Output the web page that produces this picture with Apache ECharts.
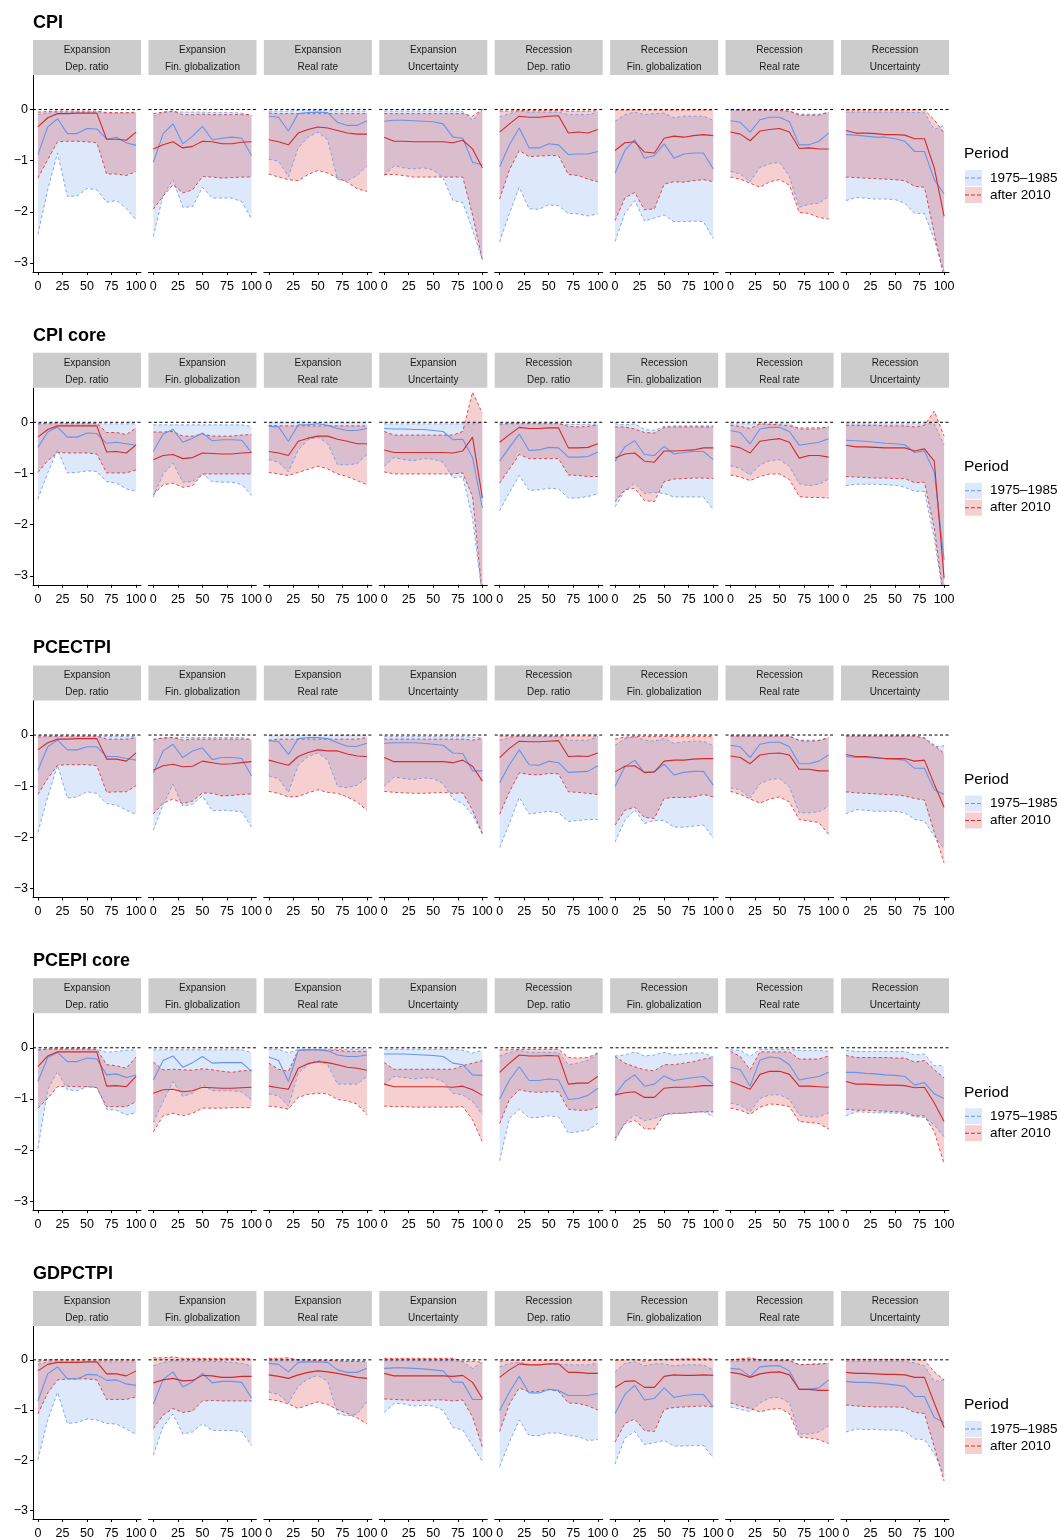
<!DOCTYPE html>
<html>
<head>
<meta charset="utf-8">
<script src="https://cdn.jsdelivr.net/npm/echarts@6/dist/echarts.min.js"></script>
<style>html,body{margin:0;padding:0;background:#fff}#c{width:1060px;height:1540px}</style>
</head>
<body>
<div id="c"></div>
<script>
// ---------------- DATA ----------------
const rowTitles = ['CPI', 'CPI core', 'PCECTPI', 'PCEPI core', 'GDPCTPI'];
const stripRegime = ['Expansion','Expansion','Expansion','Expansion','Recession','Recession','Recession','Recession'];
const stripDriver = ['Dep. ratio','Fin. globalization','Real rate','Uncertainty','Dep. ratio','Fin. globalization','Real rate','Uncertainty'];
const periodNames = ['1975\u20131985', 'after 2010'];
const xs = [0,10,20,30,40,50,60,70,80,90,100];
const xTicks = [0,25,50,75,100];
const yTicks = [-3,-2,-1,0];

// CPI
const cpi_blueMid = [
[-0.88,-0.34,-0.18,-0.47,-0.47,-0.37,-0.38,-0.58,-0.54,-0.65,-0.70],
[-1.03,-0.47,-0.28,-0.67,-0.52,-0.33,-0.59,-0.56,-0.54,-0.56,-0.90],
[-0.13,-0.15,-0.42,-0.08,-0.06,-0.05,-0.06,-0.25,-0.31,-0.31,-0.22],
[-0.23,-0.21,-0.21,-0.22,-0.23,-0.24,-0.28,-0.54,-0.56,-1.03,-1.08],
[-1.12,-0.69,-0.36,-0.75,-0.75,-0.67,-0.69,-0.88,-0.87,-0.87,-0.82],
[-1.24,-0.80,-0.59,-0.95,-0.90,-0.67,-0.95,-0.87,-0.85,-0.85,-1.16],
[-0.22,-0.25,-0.44,-0.20,-0.15,-0.15,-0.24,-0.69,-0.69,-0.62,-0.46],
[-0.49,-0.50,-0.52,-0.54,-0.54,-0.57,-0.62,-0.82,-0.82,-1.37,-1.65]];
const cpi_blueLo = [
[-2.44,-1.57,-0.85,-1.70,-1.69,-1.54,-1.57,-1.81,-1.78,-1.93,-2.16],
[-2.48,-1.67,-1.37,-1.91,-1.90,-1.52,-1.73,-1.73,-1.73,-1.80,-2.14],
[-0.97,-1.01,-1.31,-0.75,-0.54,-0.44,-0.59,-1.37,-1.39,-1.29,-1.10],
[-1.29,-1.10,-1.14,-1.16,-1.14,-1.18,-1.34,-1.78,-1.82,-2.35,-2.94],
[-2.59,-2.03,-1.52,-1.94,-1.95,-1.86,-1.88,-2.03,-2.04,-2.08,-2.04],
[-2.58,-2.03,-1.78,-2.18,-2.12,-2.06,-2.19,-2.19,-2.18,-2.19,-2.52],
[-1.21,-1.26,-1.41,-1.13,-1.06,-1.03,-1.31,-1.91,-1.85,-1.83,-1.70],
[-1.78,-1.72,-1.73,-1.75,-1.75,-1.76,-1.83,-2.03,-2.03,-2.55,-3.17]];
const cpi_blueHi = [
[-0.10,-0.07,-0.05,-0.06,-0.06,-0.06,-0.06,-0.07,-0.07,-0.07,-0.07],
[-0.13,-0.06,-0.04,-0.05,-0.05,-0.05,-0.06,-0.06,-0.06,-0.07,-0.12],
[-0.03,-0.03,-0.03,-0.02,-0.02,-0.02,-0.02,-0.03,-0.03,-0.03,-0.03],
[-0.03,-0.03,-0.03,-0.03,-0.03,-0.03,-0.03,-0.03,-0.04,-0.21,0.00],
[-0.14,-0.08,-0.03,-0.05,-0.05,-0.05,-0.05,-0.10,-0.10,-0.10,-0.05],
[-0.23,-0.10,-0.05,-0.10,-0.08,-0.07,-0.16,-0.13,-0.13,-0.13,-0.21],
[-0.02,-0.02,-0.02,-0.02,-0.02,-0.02,-0.03,-0.09,-0.09,-0.09,-0.06],
[-0.05,-0.05,-0.05,-0.05,-0.05,-0.05,-0.05,-0.06,-0.06,-0.39,-0.31]];
const cpi_redMid = [
[-0.34,-0.16,-0.08,-0.08,-0.07,-0.07,-0.07,-0.58,-0.58,-0.60,-0.44],
[-0.77,-0.69,-0.63,-0.75,-0.72,-0.62,-0.63,-0.67,-0.67,-0.64,-0.63],
[-0.59,-0.63,-0.69,-0.46,-0.39,-0.34,-0.36,-0.41,-0.46,-0.48,-0.48],
[-0.54,-0.62,-0.62,-0.63,-0.63,-0.63,-0.63,-0.65,-0.60,-0.77,-1.14],
[-0.44,-0.28,-0.13,-0.15,-0.15,-0.13,-0.12,-0.46,-0.44,-0.46,-0.39],
[-0.80,-0.65,-0.63,-0.83,-0.85,-0.56,-0.52,-0.54,-0.51,-0.49,-0.51],
[-0.44,-0.48,-0.61,-0.42,-0.39,-0.37,-0.44,-0.76,-0.75,-0.77,-0.77],
[-0.41,-0.46,-0.46,-0.47,-0.49,-0.49,-0.50,-0.57,-0.57,-1.14,-2.09]];
const cpi_redLo = [
[-1.34,-0.98,-0.63,-0.62,-0.62,-0.63,-0.65,-1.26,-1.26,-1.29,-1.21],
[-1.95,-1.69,-1.47,-1.63,-1.57,-1.31,-1.32,-1.34,-1.33,-1.32,-1.32],
[-1.26,-1.32,-1.37,-1.39,-1.27,-1.19,-1.24,-1.34,-1.42,-1.55,-1.60],
[-1.27,-1.27,-1.29,-1.32,-1.32,-1.32,-1.32,-1.32,-1.32,-2.06,-2.94],
[-1.75,-1.18,-0.80,-0.92,-0.91,-0.90,-0.90,-1.27,-1.29,-1.36,-1.41],
[-2.17,-1.73,-1.62,-1.96,-1.94,-1.46,-1.41,-1.42,-1.39,-1.37,-1.41],
[-1.32,-1.36,-1.44,-1.52,-1.41,-1.37,-1.48,-2.01,-2.03,-2.11,-2.14],
[-1.32,-1.33,-1.34,-1.35,-1.36,-1.37,-1.39,-1.50,-1.52,-2.42,-3.30]];
const cpi_redHi = [
[-0.05,-0.04,-0.03,-0.03,-0.03,-0.03,-0.03,-0.06,-0.06,-0.06,-0.05],
[-0.08,-0.05,-0.03,-0.10,-0.10,-0.09,-0.10,-0.10,-0.10,-0.10,-0.10],
[-0.07,-0.08,-0.08,-0.08,-0.08,-0.08,-0.08,-0.08,-0.08,-0.08,-0.08],
[-0.08,-0.08,-0.08,-0.08,-0.08,-0.08,-0.08,-0.08,-0.08,-0.13,0.00],
[-0.03,-0.03,-0.02,-0.02,-0.02,-0.02,-0.02,-0.03,-0.03,-0.03,-0.02],
[-0.01,-0.01,-0.01,-0.01,-0.01,-0.01,-0.01,-0.01,-0.01,-0.01,-0.01],
[0.00,-0.01,-0.01,-0.01,-0.01,-0.02,-0.03,-0.11,-0.11,-0.11,-0.05],
[-0.01,-0.01,-0.01,-0.01,-0.01,-0.01,-0.01,-0.01,-0.01,-0.20,-0.46]];

// CPI core
const cpicore_blueMid = [
[-0.49,-0.19,-0.09,-0.29,-0.29,-0.21,-0.22,-0.41,-0.39,-0.42,-0.45],
[-0.57,-0.23,-0.14,-0.39,-0.31,-0.21,-0.36,-0.34,-0.34,-0.35,-0.59],
[-0.08,-0.09,-0.37,-0.05,-0.05,-0.03,-0.06,-0.12,-0.16,-0.16,-0.12],
[-0.12,-0.13,-0.13,-0.14,-0.14,-0.16,-0.18,-0.34,-0.33,-0.69,-1.67],
[-0.76,-0.49,-0.23,-0.55,-0.54,-0.49,-0.50,-0.68,-0.68,-0.67,-0.58],
[-0.76,-0.48,-0.36,-0.63,-0.65,-0.47,-0.62,-0.59,-0.57,-0.57,-0.73],
[-0.16,-0.20,-0.42,-0.13,-0.10,-0.10,-0.18,-0.45,-0.42,-0.39,-0.32],
[-0.35,-0.36,-0.37,-0.39,-0.41,-0.42,-0.44,-0.59,-0.56,-0.97,-2.69]];
const cpicore_blueLo = [
[-1.50,-0.99,-0.54,-0.99,-0.98,-0.95,-0.96,-1.16,-1.19,-1.30,-1.35],
[-1.46,-1.01,-0.80,-1.17,-1.16,-1.01,-1.16,-1.17,-1.17,-1.22,-1.43],
[-0.73,-0.78,-0.97,-0.54,-0.34,-0.29,-0.42,-0.83,-0.83,-0.81,-0.63],
[-0.86,-0.69,-0.73,-0.75,-0.71,-0.72,-0.78,-1.09,-1.06,-1.88,-3.40],
[-1.73,-1.37,-1.04,-1.33,-1.32,-1.29,-1.30,-1.48,-1.48,-1.45,-1.40],
[-1.65,-1.34,-1.19,-1.39,-1.37,-1.39,-1.46,-1.46,-1.46,-1.46,-1.71],
[-0.85,-0.90,-1.03,-0.83,-0.75,-0.73,-0.86,-1.20,-1.24,-1.21,-1.11],
[-1.24,-1.21,-1.21,-1.21,-1.22,-1.23,-1.27,-1.35,-1.35,-2.27,-3.50]];
const cpicore_blueHi = [
[-0.03,-0.03,-0.03,-0.03,-0.03,-0.03,-0.03,-0.03,-0.03,-0.03,-0.03],
[-0.05,-0.05,-0.05,-0.05,-0.05,-0.05,-0.05,-0.05,-0.05,-0.05,-0.08],
[-0.01,-0.01,-0.01,-0.01,-0.01,-0.01,-0.01,-0.01,-0.01,-0.01,-0.01],
[-0.03,-0.03,-0.03,-0.03,-0.03,-0.03,-0.03,-0.03,-0.03,-0.03,-0.01],
[-0.05,-0.03,-0.03,-0.03,-0.03,-0.03,-0.03,-0.04,-0.04,-0.04,-0.03],
[-0.03,-0.05,-0.03,-0.14,-0.16,-0.08,-0.07,-0.07,-0.07,-0.07,-0.07],
[-0.03,-0.03,-0.03,-0.03,-0.03,-0.03,-0.03,-0.14,-0.14,-0.13,-0.08],
[-0.03,-0.03,-0.03,-0.03,-0.03,-0.03,-0.03,-0.03,-0.03,-0.03,-0.44]];
const cpicore_redMid = [
[-0.29,-0.14,-0.07,-0.07,-0.07,-0.07,-0.07,-0.58,-0.57,-0.60,-0.44],
[-0.73,-0.65,-0.63,-0.71,-0.69,-0.60,-0.61,-0.62,-0.62,-0.60,-0.59],
[-0.57,-0.60,-0.65,-0.37,-0.31,-0.27,-0.27,-0.33,-0.37,-0.42,-0.42],
[-0.54,-0.59,-0.59,-0.59,-0.59,-0.59,-0.59,-0.60,-0.56,-0.29,-1.48],
[-0.39,-0.24,-0.10,-0.12,-0.12,-0.11,-0.11,-0.50,-0.50,-0.49,-0.42],
[-0.70,-0.62,-0.60,-0.76,-0.78,-0.56,-0.56,-0.55,-0.54,-0.50,-0.50],
[-0.46,-0.50,-0.60,-0.37,-0.34,-0.32,-0.39,-0.70,-0.65,-0.65,-0.68],
[-0.45,-0.48,-0.48,-0.49,-0.50,-0.50,-0.50,-0.56,-0.52,-0.76,-3.05]];
const cpicore_redLo = [
[-0.98,-0.75,-0.59,-0.60,-0.60,-0.60,-0.62,-0.99,-0.99,-0.99,-0.93],
[-1.41,-1.22,-1.19,-1.27,-1.24,-1.01,-1.01,-1.01,-1.01,-1.01,-1.01],
[-0.98,-1.01,-1.04,-0.98,-0.92,-0.86,-0.91,-1.01,-1.06,-1.14,-1.22],
[-0.97,-1.01,-1.01,-1.01,-1.01,-1.01,-1.01,-1.01,-0.99,-1.45,-3.40],
[-1.19,-0.91,-0.63,-0.71,-0.71,-0.71,-0.71,-1.03,-1.04,-1.06,-1.06],
[-1.55,-1.32,-1.29,-1.53,-1.55,-1.16,-1.11,-1.10,-1.09,-1.09,-1.10],
[-1.03,-1.07,-1.14,-1.06,-1.01,-1.01,-1.12,-1.45,-1.47,-1.47,-1.48],
[-1.06,-1.07,-1.08,-1.09,-1.09,-1.10,-1.10,-1.18,-1.17,-2.07,-3.50]];
const cpicore_redHi = [
[-0.03,-0.02,-0.01,-0.02,-0.02,-0.02,-0.02,-0.20,-0.20,-0.24,-0.11],
[-0.19,-0.19,-0.18,-0.27,-0.27,-0.23,-0.27,-0.27,-0.27,-0.25,-0.24],
[-0.06,-0.07,-0.07,-0.07,-0.07,-0.07,-0.07,-0.07,-0.07,-0.07,-0.07],
[-0.18,-0.25,-0.25,-0.25,-0.25,-0.25,-0.25,-0.25,-0.18,0.59,0.18],
[-0.03,-0.02,-0.02,-0.02,-0.02,-0.02,-0.02,-0.08,-0.09,-0.08,-0.05],
[-0.09,-0.09,-0.13,-0.20,-0.21,-0.10,-0.09,-0.09,-0.09,-0.09,-0.09],
[-0.06,-0.08,-0.12,-0.03,-0.04,-0.05,-0.07,-0.11,-0.11,-0.11,-0.10],
[-0.06,-0.06,-0.06,-0.06,-0.07,-0.07,-0.07,-0.09,-0.06,0.22,-0.27]];

// PCECTPI
const pcectpi_blueMid = [
[-0.69,-0.23,-0.10,-0.29,-0.29,-0.23,-0.23,-0.42,-0.42,-0.46,-0.49],
[-0.74,-0.31,-0.18,-0.44,-0.31,-0.25,-0.48,-0.44,-0.44,-0.46,-0.80],
[-0.11,-0.13,-0.38,-0.07,-0.05,-0.05,-0.07,-0.15,-0.22,-0.22,-0.16],
[-0.16,-0.15,-0.15,-0.15,-0.16,-0.18,-0.20,-0.35,-0.36,-0.70,-0.70],
[-0.93,-0.58,-0.29,-0.58,-0.59,-0.51,-0.54,-0.73,-0.72,-0.71,-0.60],
[-1.00,-0.62,-0.49,-0.74,-0.72,-0.57,-0.78,-0.73,-0.71,-0.71,-0.98],
[-0.20,-0.23,-0.44,-0.18,-0.14,-0.14,-0.23,-0.56,-0.56,-0.51,-0.39],
[-0.42,-0.44,-0.44,-0.45,-0.46,-0.47,-0.49,-0.65,-0.65,-1.07,-1.16]];
const pcectpi_blueLo = [
[-1.90,-1.21,-0.59,-1.23,-1.21,-1.11,-1.14,-1.34,-1.37,-1.47,-1.55],
[-1.86,-1.36,-0.96,-1.39,-1.35,-1.19,-1.48,-1.47,-1.48,-1.50,-1.80],
[-0.80,-0.85,-1.12,-0.59,-0.42,-0.35,-0.49,-1.00,-1.03,-0.98,-0.83],
[-1.00,-0.82,-0.85,-0.87,-0.84,-0.85,-0.95,-1.25,-1.34,-1.56,-1.93],
[-2.20,-1.72,-1.22,-1.54,-1.52,-1.49,-1.52,-1.69,-1.67,-1.65,-1.65],
[-2.09,-1.67,-1.46,-1.73,-1.67,-1.67,-1.80,-1.80,-1.78,-1.76,-2.01],
[-1.03,-1.07,-1.23,-0.95,-0.87,-0.85,-1.01,-1.52,-1.52,-1.50,-1.39],
[-1.54,-1.46,-1.47,-1.49,-1.49,-1.49,-1.52,-1.65,-1.68,-1.98,-2.22]];
const pcectpi_blueHi = [
[-0.05,-0.03,-0.03,-0.03,-0.03,-0.03,-0.03,-0.03,-0.03,-0.03,-0.03],
[-0.10,-0.05,-0.05,-0.05,-0.05,-0.05,-0.05,-0.05,-0.05,-0.05,-0.10],
[-0.01,-0.01,-0.01,-0.01,-0.01,-0.01,-0.01,-0.01,-0.01,-0.01,-0.01],
[-0.03,-0.03,-0.03,-0.03,-0.03,-0.03,-0.03,-0.03,-0.03,-0.04,-0.06],
[-0.10,-0.05,-0.02,-0.03,-0.03,-0.03,-0.03,-0.10,-0.10,-0.10,-0.03],
[-0.20,-0.07,-0.03,-0.10,-0.12,-0.07,-0.16,-0.13,-0.12,-0.12,-0.21],
[-0.02,-0.02,-0.02,-0.02,-0.02,-0.02,-0.02,-0.10,-0.10,-0.10,-0.06],
[-0.02,-0.02,-0.02,-0.02,-0.02,-0.02,-0.02,-0.02,-0.06,-0.23,-0.21]];
const pcectpi_redMid = [
[-0.29,-0.15,-0.08,-0.08,-0.07,-0.07,-0.07,-0.47,-0.47,-0.51,-0.35],
[-0.69,-0.60,-0.57,-0.62,-0.61,-0.51,-0.54,-0.57,-0.56,-0.54,-0.52],
[-0.49,-0.54,-0.59,-0.42,-0.34,-0.29,-0.31,-0.31,-0.37,-0.41,-0.42],
[-0.44,-0.52,-0.52,-0.52,-0.52,-0.52,-0.52,-0.54,-0.49,-0.61,-0.90],
[-0.44,-0.26,-0.12,-0.13,-0.13,-0.12,-0.11,-0.42,-0.41,-0.42,-0.35],
[-0.72,-0.61,-0.60,-0.73,-0.72,-0.51,-0.49,-0.49,-0.47,-0.46,-0.46],
[-0.41,-0.44,-0.56,-0.39,-0.36,-0.35,-0.39,-0.67,-0.67,-0.70,-0.70],
[-0.38,-0.42,-0.42,-0.44,-0.46,-0.46,-0.46,-0.51,-0.49,-0.96,-1.41]];
const pcectpi_redLo = [
[-1.16,-0.85,-0.59,-0.58,-0.58,-0.58,-0.60,-1.12,-1.11,-1.11,-0.99],
[-1.54,-1.33,-1.25,-1.34,-1.29,-1.13,-1.14,-1.19,-1.18,-1.16,-1.15],
[-1.10,-1.14,-1.21,-1.20,-1.13,-1.07,-1.12,-1.14,-1.21,-1.31,-1.47],
[-1.10,-1.12,-1.13,-1.14,-1.14,-1.13,-1.12,-1.14,-1.13,-1.47,-1.94],
[-1.55,-1.11,-0.74,-0.77,-0.78,-0.75,-0.76,-1.11,-1.12,-1.14,-1.16],
[-1.76,-1.47,-1.41,-1.61,-1.63,-1.24,-1.22,-1.22,-1.21,-1.16,-1.21],
[-1.10,-1.16,-1.25,-1.33,-1.25,-1.21,-1.31,-1.65,-1.68,-1.71,-1.94],
[-1.11,-1.13,-1.14,-1.15,-1.16,-1.17,-1.19,-1.24,-1.27,-1.90,-2.50]];
const pcectpi_redHi = [
[-0.02,-0.02,-0.02,-0.02,-0.02,-0.02,-0.02,-0.08,-0.08,-0.08,-0.05],
[-0.08,-0.06,-0.05,-0.10,-0.08,-0.08,-0.08,-0.08,-0.08,-0.08,-0.08],
[-0.10,-0.08,-0.08,-0.08,-0.08,-0.08,-0.08,-0.08,-0.08,-0.08,-0.05],
[-0.08,-0.08,-0.08,-0.08,-0.08,-0.08,-0.08,-0.08,-0.08,-0.10,-0.07],
[-0.02,-0.02,-0.02,-0.02,-0.02,-0.02,-0.02,-0.02,-0.02,-0.02,-0.02],
[-0.08,-0.04,-0.03,-0.03,-0.03,-0.03,-0.03,-0.03,-0.03,-0.03,-0.03],
[-0.02,-0.02,-0.02,-0.02,-0.02,-0.02,-0.02,-0.11,-0.12,-0.11,-0.05],
[-0.02,-0.02,-0.02,-0.02,-0.02,-0.02,-0.02,-0.02,-0.06,-0.20,-0.36]];

// PCEPI core
const pcepicore_blueMid = [
[-0.66,-0.19,-0.09,-0.27,-0.27,-0.20,-0.22,-0.53,-0.51,-0.58,-0.53],
[-0.63,-0.25,-0.16,-0.38,-0.29,-0.17,-0.30,-0.29,-0.29,-0.29,-0.46],
[-0.18,-0.25,-0.66,-0.05,-0.04,-0.04,-0.06,-0.14,-0.17,-0.17,-0.14],
[-0.12,-0.12,-0.12,-0.13,-0.14,-0.15,-0.17,-0.30,-0.33,-0.53,-0.54],
[-1.00,-0.63,-0.37,-0.64,-0.64,-0.61,-0.63,-1.01,-0.99,-0.93,-0.79],
[-0.92,-0.66,-0.53,-0.75,-0.71,-0.55,-0.64,-0.61,-0.58,-0.56,-0.71],
[-0.38,-0.43,-0.75,-0.24,-0.18,-0.20,-0.33,-0.63,-0.59,-0.56,-0.48],
[-0.48,-0.48,-0.50,-0.51,-0.53,-0.54,-0.56,-0.73,-0.68,-0.90,-0.99]];
const pcepicore_blueLo = [
[-1.97,-0.82,-0.46,-0.82,-0.84,-0.76,-0.77,-1.20,-1.22,-1.31,-1.27],
[-1.46,-1.05,-0.66,-0.95,-0.89,-0.71,-0.84,-0.84,-0.84,-0.86,-1.02],
[-0.90,-0.94,-1.14,-0.50,-0.33,-0.24,-0.33,-0.71,-0.71,-0.71,-0.56],
[-0.71,-0.56,-0.58,-0.61,-0.59,-0.59,-0.66,-0.89,-0.92,-1.05,-1.31],
[-2.21,-1.38,-1.20,-1.37,-1.36,-1.33,-1.35,-1.67,-1.64,-1.61,-1.48],
[-1.82,-1.46,-1.31,-1.43,-1.38,-1.31,-1.29,-1.28,-1.26,-1.25,-1.35],
[-1.08,-1.12,-1.25,-0.99,-0.92,-0.92,-1.01,-1.31,-1.35,-1.35,-1.27],
[-1.33,-1.25,-1.26,-1.27,-1.27,-1.28,-1.29,-1.35,-1.36,-1.51,-1.74]];
const pcepicore_blueHi = [
[-0.05,-0.03,-0.03,-0.03,-0.03,-0.03,-0.03,-0.09,-0.07,-0.05,-0.04],
[-0.04,-0.04,-0.04,-0.04,-0.04,-0.04,-0.04,-0.04,-0.04,-0.04,-0.09],
[-0.03,-0.03,-0.10,-0.03,-0.03,-0.03,-0.03,-0.03,-0.03,-0.03,-0.03],
[-0.03,-0.03,-0.03,-0.03,-0.03,-0.03,-0.03,-0.03,-0.05,-0.10,-0.05],
[-0.16,-0.09,-0.05,-0.09,-0.09,-0.09,-0.09,-0.33,-0.30,-0.24,-0.12],
[-0.16,-0.14,-0.08,-0.16,-0.14,-0.09,-0.14,-0.12,-0.10,-0.10,-0.18],
[-0.04,-0.05,-0.17,-0.03,-0.03,-0.03,-0.03,-0.05,-0.05,-0.05,-0.07],
[-0.05,-0.07,-0.07,-0.07,-0.07,-0.07,-0.07,-0.14,-0.12,-0.35,-0.35]];
const pcepicore_redMid = [
[-0.37,-0.16,-0.08,-0.08,-0.08,-0.08,-0.08,-0.75,-0.74,-0.76,-0.56],
[-0.89,-0.82,-0.81,-0.86,-0.84,-0.77,-0.78,-0.79,-0.79,-0.78,-0.77],
[-0.75,-0.78,-0.81,-0.40,-0.31,-0.27,-0.29,-0.33,-0.38,-0.40,-0.44],
[-0.71,-0.76,-0.76,-0.76,-0.76,-0.76,-0.76,-0.77,-0.75,-0.82,-0.93],
[-0.48,-0.30,-0.14,-0.16,-0.16,-0.15,-0.16,-0.71,-0.69,-0.69,-0.56],
[-0.92,-0.88,-0.86,-0.97,-0.97,-0.79,-0.77,-0.77,-0.76,-0.74,-0.74],
[-0.66,-0.73,-0.81,-0.52,-0.46,-0.46,-0.52,-0.75,-0.75,-0.76,-0.77],
[-0.66,-0.71,-0.71,-0.72,-0.73,-0.73,-0.74,-0.78,-0.77,-1.08,-1.44]];
const pcepicore_redLo = [
[-1.18,-0.99,-0.76,-0.75,-0.76,-0.76,-0.78,-1.15,-1.15,-1.15,-1.05],
[-1.64,-1.33,-1.28,-1.33,-1.28,-1.18,-1.18,-1.18,-1.17,-1.17,-1.17],
[-1.14,-1.16,-1.20,-0.97,-0.91,-0.89,-0.90,-1.01,-1.04,-1.10,-1.31],
[-1.14,-1.15,-1.15,-1.16,-1.16,-1.16,-1.16,-1.16,-1.15,-1.41,-1.84],
[-1.48,-1.01,-0.82,-0.86,-0.87,-0.86,-0.86,-1.20,-1.22,-1.22,-1.16],
[-1.77,-1.48,-1.42,-1.58,-1.59,-1.30,-1.28,-1.28,-1.26,-1.25,-1.25],
[-1.18,-1.22,-1.30,-1.16,-1.10,-1.11,-1.15,-1.44,-1.46,-1.48,-1.59],
[-1.20,-1.22,-1.22,-1.23,-1.24,-1.25,-1.26,-1.33,-1.33,-1.64,-2.27]];
const pcepicore_redHi = [
[-0.04,-0.02,-0.02,-0.02,-0.02,-0.02,-0.03,-0.33,-0.35,-0.40,-0.18],
[-0.28,-0.43,-0.42,-0.43,-0.44,-0.41,-0.43,-0.46,-0.48,-0.45,-0.44],
[-0.30,-0.42,-0.46,-0.05,-0.04,-0.04,-0.05,-0.05,-0.07,-0.07,-0.07],
[-0.29,-0.42,-0.42,-0.42,-0.42,-0.42,-0.42,-0.42,-0.35,-0.30,-0.25],
[-0.04,-0.04,-0.03,-0.03,-0.03,-0.03,-0.03,-0.19,-0.20,-0.19,-0.10],
[-0.17,-0.30,-0.37,-0.43,-0.45,-0.33,-0.33,-0.30,-0.27,-0.22,-0.19],
[-0.07,-0.17,-0.43,-0.08,-0.08,-0.08,-0.08,-0.22,-0.22,-0.22,-0.16],
[-0.15,-0.19,-0.19,-0.19,-0.19,-0.20,-0.20,-0.28,-0.25,-0.43,-0.59]];

// GDPCTPI
const gdpctpi_blueMid = [
[-0.82,-0.28,-0.14,-0.38,-0.38,-0.29,-0.30,-0.41,-0.40,-0.48,-0.51],
[-0.88,-0.39,-0.24,-0.54,-0.44,-0.27,-0.46,-0.43,-0.43,-0.45,-0.76],
[-0.07,-0.09,-0.24,-0.05,-0.04,-0.04,-0.05,-0.20,-0.25,-0.25,-0.17],
[-0.17,-0.16,-0.16,-0.17,-0.18,-0.20,-0.22,-0.44,-0.45,-0.79,-0.79],
[-1.01,-0.64,-0.33,-0.66,-0.66,-0.59,-0.61,-0.71,-0.71,-0.71,-0.67],
[-1.07,-0.69,-0.51,-0.80,-0.77,-0.56,-0.75,-0.71,-0.69,-0.69,-0.94],
[-0.17,-0.19,-0.33,-0.14,-0.12,-0.12,-0.22,-0.59,-0.59,-0.56,-0.40],
[-0.43,-0.45,-0.45,-0.46,-0.48,-0.50,-0.53,-0.73,-0.73,-1.15,-1.25]];
const gdpctpi_blueLo = [
[-1.99,-1.20,-0.65,-1.27,-1.25,-1.18,-1.20,-1.27,-1.28,-1.38,-1.49],
[-1.90,-1.33,-1.08,-1.48,-1.44,-1.27,-1.41,-1.41,-1.41,-1.43,-1.71],
[-0.64,-0.69,-0.86,-0.53,-0.38,-0.31,-0.43,-1.07,-1.12,-1.08,-0.84],
[-1.05,-0.87,-0.88,-0.92,-0.91,-0.92,-1.01,-1.35,-1.40,-1.71,-2.03],
[-2.13,-1.64,-1.20,-1.51,-1.51,-1.46,-1.46,-1.51,-1.53,-1.61,-1.59],
[-2.08,-1.56,-1.43,-1.69,-1.65,-1.61,-1.72,-1.72,-1.71,-1.71,-1.95],
[-0.94,-0.99,-1.03,-0.86,-0.76,-0.75,-0.86,-1.48,-1.48,-1.44,-1.31],
[-1.44,-1.38,-1.39,-1.39,-1.40,-1.40,-1.43,-1.58,-1.59,-1.87,-2.29]];
const gdpctpi_blueHi = [
[-0.09,-0.04,-0.04,-0.04,-0.04,-0.04,-0.04,-0.04,-0.04,-0.04,-0.04],
[-0.12,-0.05,-0.02,-0.03,-0.03,-0.03,-0.03,-0.04,-0.05,-0.07,-0.12],
[-0.02,-0.02,-0.02,-0.02,-0.02,-0.02,-0.02,-0.02,-0.02,-0.02,-0.02],
[-0.02,-0.02,-0.02,-0.02,-0.02,-0.02,-0.02,-0.02,-0.04,-0.17,-0.05],
[-0.14,-0.07,-0.05,-0.09,-0.09,-0.09,-0.09,-0.10,-0.10,-0.10,-0.07],
[-0.24,-0.07,-0.04,-0.12,-0.08,-0.08,-0.12,-0.10,-0.10,-0.10,-0.20],
[-0.03,-0.03,-0.03,-0.02,-0.02,-0.02,-0.02,-0.09,-0.09,-0.07,-0.07],
[-0.03,-0.03,-0.03,-0.03,-0.03,-0.03,-0.03,-0.06,-0.12,-0.43,-0.40]];
const gdpctpi_redMid = [
[-0.22,-0.09,-0.05,-0.05,-0.05,-0.04,-0.04,-0.28,-0.28,-0.32,-0.22],
[-0.46,-0.40,-0.37,-0.42,-0.41,-0.31,-0.32,-0.35,-0.35,-0.33,-0.33],
[-0.30,-0.33,-0.37,-0.30,-0.25,-0.22,-0.24,-0.27,-0.31,-0.35,-0.37],
[-0.27,-0.32,-0.32,-0.32,-0.32,-0.32,-0.32,-0.33,-0.31,-0.45,-0.77],
[-0.35,-0.20,-0.08,-0.10,-0.10,-0.08,-0.08,-0.25,-0.25,-0.27,-0.27],
[-0.55,-0.43,-0.42,-0.55,-0.55,-0.33,-0.30,-0.31,-0.31,-0.30,-0.31],
[-0.25,-0.28,-0.35,-0.28,-0.25,-0.24,-0.30,-0.59,-0.59,-0.61,-0.61],
[-0.25,-0.27,-0.27,-0.28,-0.29,-0.29,-0.30,-0.35,-0.35,-0.86,-1.35]];
const gdpctpi_redLo = [
[-1.08,-0.66,-0.40,-0.38,-0.38,-0.38,-0.40,-0.79,-0.79,-0.79,-0.74],
[-1.37,-1.10,-0.97,-1.05,-1.02,-0.82,-0.81,-0.82,-0.82,-0.82,-0.82],
[-0.79,-0.82,-0.88,-0.97,-0.90,-0.84,-0.89,-0.99,-1.07,-1.16,-1.28],
[-0.78,-0.79,-0.80,-0.81,-0.81,-0.80,-0.80,-0.82,-0.80,-1.14,-1.74],
[-1.43,-0.88,-0.56,-0.64,-0.63,-0.59,-0.63,-0.86,-0.87,-0.92,-1.00],
[-1.64,-1.27,-1.18,-1.41,-1.43,-0.99,-0.95,-0.94,-0.93,-0.92,-0.94],
[-0.86,-0.92,-0.97,-1.04,-0.99,-0.97,-1.07,-1.54,-1.56,-1.59,-1.67],
[-0.90,-0.92,-0.93,-0.94,-0.94,-0.94,-0.95,-1.05,-1.07,-1.74,-2.42]];
const gdpctpi_redHi = [
[-0.03,0.00,0.00,0.00,0.00,0.00,0.00,0.00,0.00,0.00,-0.01],
[0.04,0.04,0.06,0.03,0.03,0.03,0.03,0.03,0.03,0.03,0.02],
[0.03,0.03,0.04,0.00,0.00,-0.01,-0.01,-0.02,-0.03,-0.03,-0.04],
[0.03,0.03,0.03,0.03,0.03,0.03,0.03,0.03,-0.03,-0.03,-0.05],
[-0.03,-0.01,-0.01,-0.01,-0.01,-0.01,-0.01,-0.01,-0.01,-0.01,-0.01],
[-0.01,0.00,0.01,-0.03,0.00,0.01,0.01,0.02,0.02,0.02,0.02],
[0.00,0.02,0.04,0.00,0.00,-0.01,-0.01,-0.10,-0.09,-0.09,-0.07],
[0.01,0.01,0.01,0.01,0.01,0.01,0.01,0.01,-0.01,-0.24,-0.40]];

// ---------------- BUILD ----------------
const rows = [
  {title: rowTitles[0], s: [[cpi_blueMid, cpi_blueLo, cpi_blueHi], [cpi_redMid, cpi_redLo, cpi_redHi]]},
  {title: rowTitles[1], s: [[cpicore_blueMid, cpicore_blueLo, cpicore_blueHi], [cpicore_redMid, cpicore_redLo, cpicore_redHi]]},
  {title: rowTitles[2], s: [[pcectpi_blueMid, pcectpi_blueLo, pcectpi_blueHi], [pcectpi_redMid, pcectpi_redLo, pcectpi_redHi]]},
  {title: rowTitles[3], s: [[pcepicore_blueMid, pcepicore_blueLo, pcepicore_blueHi], [pcepicore_redMid, pcepicore_redLo, pcepicore_redHi]]},
  {title: rowTitles[4], s: [[gdpctpi_blueMid, gdpctpi_blueLo, gdpctpi_blueHi], [gdpctpi_redMid, gdpctpi_redLo, gdpctpi_redHi]]}
];

const FONT = '"Liberation Sans", Arial, Helvetica, sans-serif';
const PANEL_W = 108, PANEL_STEP = 115.43, LEFT0 = 33;
const ROW_STEP = 312.75, TOP0 = 75, PANEL_H = 197, STRIP_H = 35;
const YMIN = -3.175, YMAX = 0.675;
const STYLE = [
  {line: '#6495ED', fill: 'rgba(100,149,237,0.22)', border: 'rgba(100,149,237,0.8)'},
  {line: '#D22B2B', fill: 'rgba(215,40,40,0.22)', border: 'rgba(215,40,40,0.8)'}
];
const minusFmt = v => (v < 0 ? '\u2212' + Math.abs(v) : String(v));

// band polygon built through the coordinate system of its own grid
function bandRenderer(lo, hi, fill) {
  return function (params, api) {
    if (params.dataIndex !== 0) return null;
    const pts = [];
    for (let i = 0; i < xs.length; i++) pts.push(api.coord([xs[i], hi[i]]));
    for (let i = xs.length - 1; i >= 0; i--) pts.push(api.coord([xs[i], lo[i]]));
    const cs = params.coordSys;
    return {
      type: 'polygon',
      shape: {points: pts},
      style: {fill: fill, stroke: null},
      clipPath: {type: 'rect', shape: {x: cs.x, y: cs.y, width: cs.width, height: cs.height}}
    };
  };
}

const grids = [], xAxes = [], yAxes = [], series = [], graphics = [];

rows.forEach((row, r) => {
  const top = TOP0 + r * ROW_STEP;
  graphics.push({type: 'text', x: 33, y: top - 52, z: 100,
    style: {text: row.title, font: 'bold 18px ' + FONT, fill: '#000', verticalAlign: 'middle', align: 'left'}});
  for (let p = 0; p < 8; p++) {
    const g = grids.length;
    const left = LEFT0 + p * PANEL_STEP;
    grids.push({left: left, top: top, width: PANEL_W, height: PANEL_H, containLabel: false});
    graphics.push({type: 'rect', shape: {x: left, y: top - STRIP_H, width: PANEL_W, height: STRIP_H}, style: {fill: '#CCCCCC'}, z: 50});
    graphics.push({type: 'text', x: left + PANEL_W / 2, y: top - 25, z: 100,
      style: {text: stripRegime[p], font: '10px ' + FONT, fill: '#1A1A1A', align: 'center', verticalAlign: 'middle'}});
    graphics.push({type: 'text', x: left + PANEL_W / 2, y: top - 8, z: 100,
      style: {text: stripDriver[p], font: '10px ' + FONT, fill: '#1A1A1A', align: 'center', verticalAlign: 'middle'}});

    xAxes.push({gridIndex: g, type: 'value', min: -5, max: 105,
      axisLine: {show: true, onZero: false, lineStyle: {color: '#000', width: 1}},
      axisTick: {show: true, length: 3, customValues: xTicks, lineStyle: {color: '#000', width: 1}},
      axisLabel: {show: true, customValues: xTicks, fontSize: 12.5, color: '#000', margin: 8, fontFamily: FONT},
      splitLine: {show: false}});
    yAxes.push({gridIndex: g, type: 'value', min: YMIN, max: YMAX, show: p === 0,
      axisLine: {show: true, onZero: false, lineStyle: {color: '#000', width: 1}},
      axisTick: {show: true, length: 3, customValues: yTicks, lineStyle: {color: '#000', width: 1}},
      axisLabel: {show: true, customValues: yTicks, fontSize: 12.5, color: '#000', margin: 5, fontFamily: FONT, formatter: minusFmt},
      splitLine: {show: false}});

    // ribbons (fill) and their dashed bounds
    for (let k = 0; k < 2; k++) {
      const lo = row.s[k][1][p], hi = row.s[k][2][p];
      const st = STYLE[k];
      series.push({type: 'custom', xAxisIndex: g, yAxisIndex: g, silent: true, z: 2 + k,
        data: xs.map((x, i) => [x, lo[i], hi[i]]),
        encode: {x: 0, y: [1, 2]},
        renderItem: bandRenderer(lo, hi, st.fill)});
      series.push({type: 'line', xAxisIndex: g, yAxisIndex: g,
        data: xs.map((x, i) => [x, lo[i]]), symbol: 'none', silent: true, clip: true, z: 4,
        lineStyle: {color: st.border, width: 1, type: [3, 2.5]}});
      series.push({type: 'line', xAxisIndex: g, yAxisIndex: g,
        data: xs.map((x, i) => [x, hi[i]]), symbol: 'none', silent: true, clip: true, z: 4,
        lineStyle: {color: st.border, width: 1, type: [3, 2.5]}});
    }
    // zero reference
    series.push({type: 'line', xAxisIndex: g, yAxisIndex: g, data: [[-5, 0], [105, 0]], symbol: 'none', silent: true, z: 6,
      lineStyle: {color: '#000', width: 1, type: [3, 2.5]}});
    // central lines
    for (let k = 0; k < 2; k++) {
      const mid = row.s[k][0][p];
      series.push({type: 'line', xAxisIndex: g, yAxisIndex: g,
        data: xs.map((x, i) => [x, mid[i]]), symbol: 'none', silent: true, clip: true, z: 5,
        lineStyle: {color: STYLE[k].line, width: 1.1}});
    }
  }

  // legend
  graphics.push({type: 'text', x: 964, y: top + 79, z: 100,
    style: {text: 'Period', font: '15.5px ' + FONT, fill: '#000', align: 'left', verticalAlign: 'middle'}});
  for (let k = 0; k < 2; k++) {
    const cy = top + 103 + k * 17;
    graphics.push({type: 'rect', shape: {x: 965, y: cy - 8, width: 17, height: 16}, style: {fill: STYLE[k].fill}, z: 100});
    graphics.push({type: 'line', shape: {x1: 965, y1: cy, x2: 982, y2: cy}, style: {stroke: STYLE[k].line, lineWidth: 1, lineDash: [4, 2]}, z: 101});
    graphics.push({type: 'text', x: 990, y: cy, z: 100,
      style: {text: periodNames[k], font: '13.5px ' + FONT, fill: '#000', align: 'left', verticalAlign: 'middle'}});
  }
});

const chart = echarts.init(document.getElementById('c'), null, {renderer: 'canvas', width: 1060, height: 1540});
chart.setOption({
  animation: false,
  backgroundColor: '#ffffff',
  grid: grids,
  xAxis: xAxes,
  yAxis: yAxes,
  series: series,
  graphic: graphics
});
</script>
</body>
</html>
